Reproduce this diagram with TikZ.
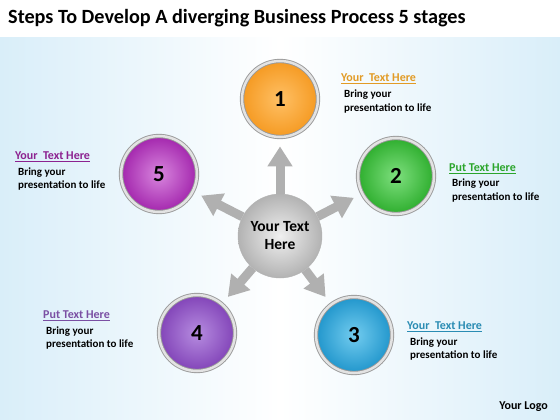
\documentclass[tikz,border=0pt]{standalone}
\usepackage{fontspec}
\setmainfont{Carlito}
\usepackage{tikz}
\usetikzlibrary{arrows.meta}
\definecolor{bgblue}{HTML}{D9EEF9}
\definecolor{orangeA}{HTML}{F59A22}
\definecolor{orangeB}{HTML}{FFC065}
\definecolor{greenA}{HTML}{2EAE2E}
\definecolor{greenB}{HTML}{7EDF7E}
\definecolor{blueA}{HTML}{2196CC}
\definecolor{blueB}{HTML}{72CCEF}
\definecolor{purpleA}{HTML}{8244B8}
\definecolor{purpleB}{HTML}{B68CE0}
\definecolor{magentaA}{HTML}{A326AD}
\definecolor{magentaB}{HTML}{D886DE}
\definecolor{headorange}{HTML}{E29B25}
\definecolor{headgreen}{HTML}{2BA52B}
\definecolor{headblue}{HTML}{2A8CB3}
\definecolor{headpurple}{HTML}{7A4FA3}
\definecolor{headmagenta}{HTML}{8C2290}

\begin{document}
\begin{tikzpicture}[x=1pt,y=-1pt,
  stage/.style={circle, minimum size=76pt, inner sep=0pt,
    draw=gray!80, double=gray!22, double distance=2.5pt, line width=0.9pt,
    font=\bfseries\fontsize{23}{23}\selectfont},
  hubball/.style={circle, minimum size=84pt, inner sep=0pt, draw=gray!60,
    inner color=gray!12, outer color=gray!60,
    font=\bfseries\fontsize{15.5}{18}\selectfont, align=center},
  spoke/.style={-{Triangle[width=24pt,length=20pt]}, line width=9pt,
    draw=gray!62, shorten >=9pt},
  head/.style={anchor=west, inner sep=0pt, font=\bfseries\fontsize{12}{14}\selectfont},
  body/.style={anchor=west, inner sep=0pt, align=left, font=\bfseries\fontsize{11}{13.5}\selectfont}
]
% background
\useasboundingbox (0,0) rectangle (560,420);
\fill[white] (0,0) rectangle (560,420);
\shade[left color=bgblue, right color=bgblue, middle color=white] (0,38) rectangle (560,420);

% title
\node[anchor=west, inner sep=0pt, font=\bfseries\fontsize{20.2}{23}\selectfont] (title) at (8,18)
  {Steps To Develop A diverging Business Process 5 stages};

% hub
\node[hubball] (hub) at (280,236) {Your Text\\Here};

% stages
\node[stage, inner color=orangeB, outer color=orangeA] (c1) at (280,99) {1};
\node[stage, inner color=greenB, outer color=greenA] (c2) at (396,176) {2};
\node[stage, inner color=blueB, outer color=blueA] (c3) at (354,335) {3};
\node[stage, inner color=purpleB, outer color=purpleA] (c4) at (197,333) {4};
\node[stage, inner color=magentaB, outer color=magentaA] (c5) at (159,174) {5};

% spokes
\foreach \s in {c1,c2,c3,c4,c5}
  \draw[spoke] (hub) -- (\s);

% labels
\node[head, text=headorange] (h1) at (341,79) {\underline{Your\ \ Text Here}};
\node[body] (b1) at (344,101.5) {Bring your\\presentation to life};

\node[head, text=headgreen] (h2) at (449,169) {\underline{Put Text Here}};
\node[body] (b2) at (452,190.5) {Bring your\\presentation to life};

\node[head, text=headblue] (h3) at (407,327) {\underline{Your\ \ Text Here}};
\node[body] (b3) at (410,349) {Bring your\\presentation to life};

\node[head, text=headpurple] (h4) at (43,316) {\underline{Put Text Here}};
\node[body] (b4) at (46,338) {Bring your\\presentation to life};

\node[head, text=headmagenta] (h5) at (15,157) {\underline{Your\ \ Text Here}};
\node[body] (b5) at (18,179) {Bring your\\presentation to life};

% logo
\node[anchor=east, inner sep=0pt, font=\bfseries\fontsize{12}{14}\selectfont] (logo) at (548,407) {Your Logo};
\end{tikzpicture}
\end{document}
